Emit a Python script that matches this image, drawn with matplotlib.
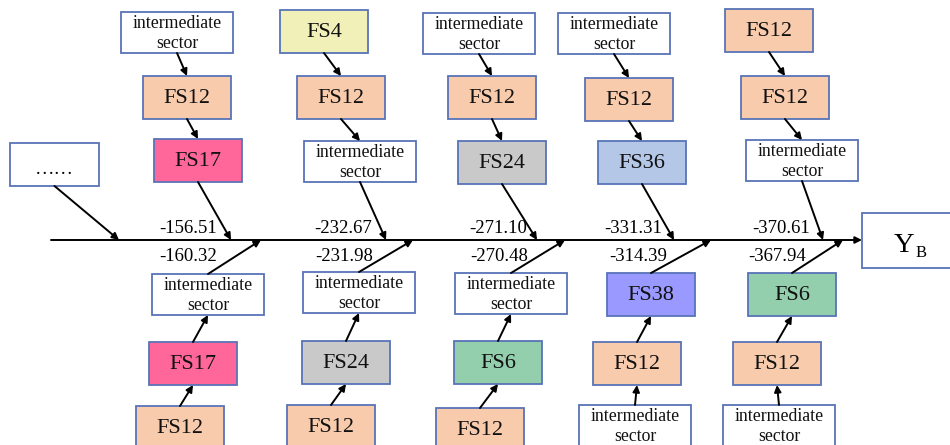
import matplotlib.pyplot as plt
from matplotlib.patches import Rectangle

plt.rcParams['font.family'] = ['Liberation Serif', 'DejaVu Serif']

# --- data ---
INT = "intermediate\nsector"
top_chains = [
    [INT, "FS12", "FS17"],
    ["FS4", "FS12", INT],
    [INT, "FS12", "FS24"],
    [INT, "FS12", "FS36"],
    ["FS12", "FS12", INT],
]
# bottom chains listed from the spine outwards
bottom_chains = [
    [INT, "FS17", "FS12"],
    [INT, "FS24", "FS12"],
    [INT, "FS6", "FS12"],
    ["FS38", "FS12", INT],
    ["FS6", "FS12", INT],
]
top_values = [-156.51, -232.67, -271.10, -331.31, -370.61]
bottom_values = [-160.32, -231.98, -270.48, -314.39, -367.94]

fills = {
    "FS12": "#f8cbad",
    "FS17": "#ff6699",
    "FS4": "#f0f0b8",
    "FS24": "#c9c9c9",
    "FS36": "#b4c7e7",
    "FS38": "#9999ff",
    "FS6": "#93cfad",
    INT: "white",
}

# --- layout (pixel coords, y down) ---
top_boxes = [
    [(121, 12), (143, 76), (154, 139)],
    [(280, 10), (297, 76), (304, 141)],
    [(423, 13), (448, 76), (458, 141)],
    [(558, 13), (585, 78), (598, 141)],
    [(725, 9), (741, 76), (746, 140)],
]
bottom_boxes = [
    [(152, 274), (149, 342), (136, 406)],
    [(303, 272), (302, 341), (287, 405)],
    [(455, 273), (454, 341), (436, 408)],
    [(607, 273), (593, 342), (579, 405)],
    [(748, 273), (733, 342), (723, 405)],
]
top_heads = [231, 386, 537, 674, 823]
bottom_heads = [261, 413, 565, 711, 843]
top_label_right = [217, 372, 527, 662, 810]
bottom_label_right = [217, 373, 528, 667, 806]
SPINE_Y = 240
EDGE = "#5874b8"

fig = plt.figure(figsize=(9.5, 4.45), dpi=100)
ax = fig.add_axes([0, 0, 1, 1])
ax.set_xlim(0, 950)
ax.set_ylim(445, 0)
ax.axis('off')


def box_size(label):
    return (112, 41) if label == INT else (88, 43)


def draw_box(x, y, label):
    w, h = box_size(label)
    ax.add_patch(Rectangle((x, y), w, h, facecolor=fills[label], edgecolor=EDGE, lw=1.3, zorder=2))
    fs = 12.8 if label == INT else 16
    ax.text(x + w / 2, y + h / 2 + 1, label, ha='center', va='center', fontsize=fs,
            linespacing=1.22, color='#111111', zorder=3)
    return x, y, w, h


def arrow(x0, y0, x1, y1):
    ax.annotate('', xy=(x1, y1), xytext=(x0, y0),
                arrowprops=dict(arrowstyle='-|>', color='black', lw=1.4,
                                mutation_scale=10, shrinkA=0, shrinkB=0), zorder=4)


# spine
arrow(51, SPINE_Y, 862, SPINE_Y)

# "......" box at the left
ax.add_patch(Rectangle((10, 143), 89, 43, facecolor='white', edgecolor=EDGE, lw=1.3))
ax.text(54.5, 170, "……", ha='center', va='center', fontsize=14)
arrow(54.5, 186, 119, SPINE_Y)

# Y_B box
ax.add_patch(Rectangle((862, 213), 100, 55, facecolor='white', edgecolor=EDGE, lw=1.3, clip_on=True))
ax.text(904, 252, "Y", ha='center', va='baseline', fontsize=20.5)
ax.text(921, 257, "B", ha='center', va='baseline', fontsize=12)

for i in range(5):
    # upper branch
    rects = [draw_box(x, y, lab) for (x, y), lab in zip(top_boxes[i], top_chains[i])]
    for a, b in zip(rects[:-1], rects[1:]):
        arrow(a[0] + a[2] / 2, a[1] + a[3], b[0] + b[2] / 2, b[1])
    last = rects[-1]
    arrow(last[0] + last[2] / 2, last[1] + last[3], top_heads[i], SPINE_Y)
    ax.text(top_label_right[i], 233, f"{top_values[i]:.2f}", ha='right', va='baseline', fontsize=13.5)

    # lower branch
    rects = [draw_box(x, y, lab) for (x, y), lab in zip(bottom_boxes[i], bottom_chains[i])]
    for a, b in zip(rects[1:], rects[:-1]):
        arrow(a[0] + a[2] / 2, a[1], b[0] + b[2] / 2, b[1] + b[3])
    first = rects[0]
    arrow(first[0] + first[2] / 2, first[1], bottom_heads[i], SPINE_Y)
    ax.text(bottom_label_right[i], 261, f"{bottom_values[i]:.2f}", ha='right', va='baseline', fontsize=13.5)

fig.savefig("out.png", dpi=100)
